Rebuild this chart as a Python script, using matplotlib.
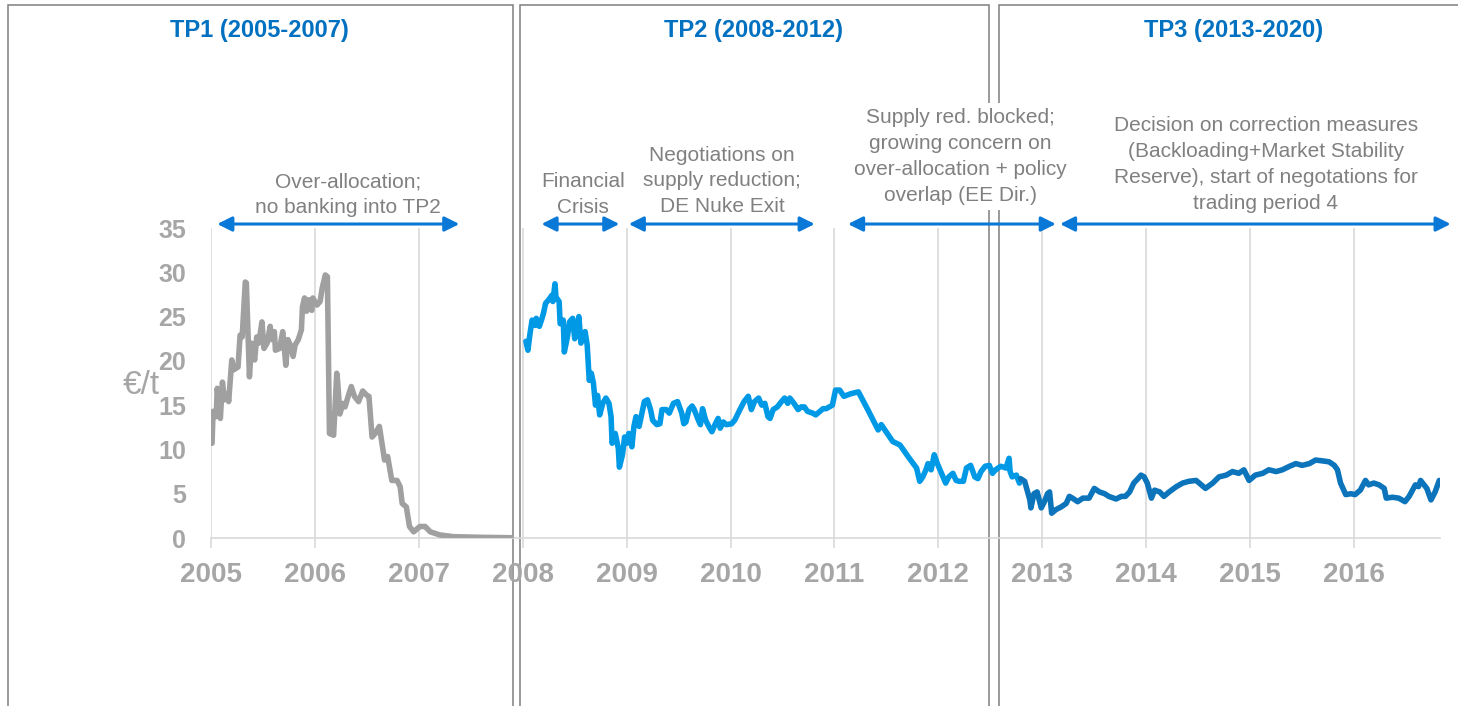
import matplotlib
matplotlib.use("Agg")
import matplotlib.pyplot as plt
import matplotlib.transforms as mtransforms
from matplotlib.patches import Rectangle

plt.rcParams['font.family'] = ['Liberation Sans', 'DejaVu Sans']

# EUA price, trading period 1 (2005-2007)
tp1_years = [2005.01, 2005.02, 2005.05, 2005.06, 2005.09, 2005.11, 2005.13, 2005.16, 2005.17,
             2005.20, 2005.22, 2005.26, 2005.28, 2005.30, 2005.33, 2005.34, 2005.37, 2005.39,
             2005.42, 2005.44, 2005.46, 2005.49, 2005.51, 2005.54, 2005.57, 2005.58, 2005.61,
             2005.62, 2005.66, 2005.69, 2005.70, 2005.72, 2005.74, 2005.77, 2005.79, 2005.81,
             2005.84, 2005.87, 2005.88, 2005.90, 2005.92, 2005.94, 2005.97, 2005.98, 2006.02,
             2006.05, 2006.07, 2006.10, 2006.12, 2006.14, 2006.18, 2006.21, 2006.22, 2006.24,
             2006.27, 2006.29, 2006.32, 2006.35, 2006.38, 2006.42, 2006.46, 2006.50, 2006.52,
             2006.55, 2006.58, 2006.62, 2006.64, 2006.67, 2006.70, 2006.74, 2006.79, 2006.82,
             2006.84, 2006.88, 2006.91, 2006.95, 2007.01, 2007.06, 2007.11, 2007.20, 2007.33,
             2007.59, 2007.89]
tp1_prices = [10.7, 14.3, 13.7, 16.9, 13.5, 17.6, 15.6, 16.3, 15.4,
              20.1, 19.0, 19.3, 22.9, 22.7, 28.9, 28.8, 18.2, 22.0,
              20.1, 22.7, 22.0, 24.4, 21.4, 22.0, 23.9, 22.4, 23.3,
              21.2, 21.4, 23.3, 22.2, 19.5, 22.4, 21.6, 20.5, 21.8,
              22.4, 23.5, 26.1, 27.1, 25.6, 26.9, 25.7, 27.1, 26.3,
              26.7, 28.2, 29.7, 29.5, 11.8, 11.6, 18.6, 17.5, 14.0,
              15.2, 14.8, 16.0, 17.1, 16.0, 15.4, 16.6, 16.1, 16.0,
              11.4, 11.8, 12.6, 11.1, 8.8, 9.2, 6.5, 6.5, 5.8,
              3.9, 3.5, 1.3, 0.7, 1.3, 1.3, 0.7, 0.35, 0.15,
              0.08, 0.03]

# trading period 2 (2008-2012)
tp2_years = [2008.03, 2008.05, 2008.07, 2008.09, 2008.12, 2008.13, 2008.16, 2008.18, 2008.20,
             2008.22, 2008.25, 2008.28, 2008.29, 2008.31, 2008.32, 2008.35, 2008.36, 2008.39,
             2008.40, 2008.43, 2008.45, 2008.48, 2008.50, 2008.52, 2008.54, 2008.56, 2008.60,
             2008.62, 2008.64, 2008.66, 2008.68, 2008.70, 2008.72, 2008.74, 2008.77, 2008.80,
             2008.83, 2008.85, 2008.86, 2008.89, 2008.92, 2008.93, 2008.96, 2008.98, 2009.00,
             2009.02, 2009.05, 2009.07, 2009.09, 2009.12, 2009.14, 2009.17, 2009.20, 2009.23,
             2009.25, 2009.29, 2009.32, 2009.34, 2009.38, 2009.41, 2009.45, 2009.49, 2009.53,
             2009.55, 2009.57, 2009.60, 2009.63, 2009.65, 2009.69, 2009.71, 2009.73, 2009.76,
             2009.79, 2009.82, 2009.85, 2009.88, 2009.90, 2009.93, 2009.96, 2010.01, 2010.04,
             2010.09, 2010.13, 2010.17, 2010.20, 2010.23, 2010.27, 2010.30, 2010.33, 2010.36,
             2010.38, 2010.41, 2010.45, 2010.49, 2010.52, 2010.55, 2010.57, 2010.61, 2010.65,
             2010.68, 2010.71, 2010.74, 2010.79, 2010.82, 2010.86, 2010.89, 2010.92, 2010.95,
             2010.98, 2011.01, 2011.05, 2011.09, 2011.16, 2011.23, 2011.32, 2011.42, 2011.45,
             2011.56, 2011.63, 2011.72, 2011.79, 2011.82, 2011.85, 2011.88, 2011.90, 2011.93,
             2011.96, 2011.99, 2012.03, 2012.07, 2012.10, 2012.14, 2012.17, 2012.20, 2012.24,
             2012.27, 2012.31, 2012.35, 2012.38, 2012.41, 2012.45, 2012.49, 2012.52, 2012.55,
             2012.60, 2012.65, 2012.68, 2012.69, 2012.71, 2012.75, 2012.78, 2012.79]
tp2_prices = [22.2, 21.2, 23.1, 24.6, 24.0, 24.8, 23.9, 24.6, 25.4,
              26.5, 26.9, 27.4, 26.7, 28.7, 27.2, 26.7, 24.2, 24.6,
              21.0, 22.7, 24.4, 24.8, 22.5, 23.5, 25.0, 22.0, 23.3,
              21.8, 17.8, 18.6, 17.5, 15.0, 16.1, 13.9, 15.2, 15.8,
              15.2, 13.7, 10.7, 11.8, 10.1, 8.0, 9.4, 11.4, 10.7,
              11.8, 10.3, 12.6, 13.7, 12.6, 13.7, 15.4, 15.6, 14.5,
              13.3, 12.8, 12.9, 14.5, 14.5, 14.1, 15.2, 15.4, 14.1,
              12.9, 13.1, 14.5, 14.9, 14.5, 13.3, 12.8, 14.6, 13.3,
              12.6, 12.0, 12.8, 13.5, 12.4, 13.1, 12.8, 12.9, 13.3,
              14.5, 15.4, 16.0, 14.5, 15.4, 15.8, 15.0, 15.2, 13.7,
              13.5, 14.5, 14.8, 15.4, 15.8, 15.2, 15.8, 15.2, 14.5,
              14.8, 14.8, 14.3, 14.1, 13.9, 14.3, 14.6, 14.6, 14.8,
              15.0, 16.7, 16.7, 16.0, 16.3, 16.5, 14.5, 12.2, 12.8,
              10.9, 10.5, 9.0, 7.9, 6.4, 6.9, 7.7, 8.4, 7.7,
              9.4, 8.4, 7.3, 6.2, 6.9, 7.3, 6.5, 6.4, 6.4,
              7.9, 8.2, 6.9, 6.7, 7.5, 8.1, 8.2, 7.3, 7.7,
              8.1, 7.9, 9.0, 7.5, 6.9, 7.1, 6.2, 6.5]

# trading period 3 (2013-2020)
tp3_years = [2012.79, 2012.83, 2012.88, 2012.89, 2012.92, 2012.95, 2012.99, 2013.02, 2013.05,
             2013.07, 2013.09, 2013.13, 2013.18, 2013.23, 2013.26, 2013.29, 2013.34, 2013.39,
             2013.45, 2013.50, 2013.55, 2013.60, 2013.64, 2013.71, 2013.76, 2013.80, 2013.84,
             2013.88, 2013.92, 2013.95, 2013.98, 2014.01, 2014.05, 2014.08, 2014.13, 2014.17,
             2014.22, 2014.29, 2014.35, 2014.41, 2014.48, 2014.53, 2014.57, 2014.64, 2014.70,
             2014.77, 2014.83, 2014.89, 2014.94, 2014.99, 2015.05, 2015.12, 2015.18, 2015.25,
             2015.31, 2015.38, 2015.44, 2015.50, 2015.57, 2015.63, 2015.70, 2015.76, 2015.81,
             2015.84, 2015.87, 2015.92, 2015.97, 2016.01, 2016.06, 2016.11, 2016.14, 2016.19,
             2016.24, 2016.29, 2016.31, 2016.37, 2016.43, 2016.49, 2016.53, 2016.59, 2016.62,
             2016.64, 2016.70, 2016.74, 2016.78, 2016.82]
tp3_prices = [6.7, 6.4, 4.3, 3.4, 5.0, 5.2, 3.4, 4.1, 5.0,
              5.2, 2.8, 3.2, 3.5, 3.9, 4.7, 4.5, 4.1, 4.5,
              4.5, 5.6, 5.2, 5.0, 4.7, 4.4, 4.7, 4.7, 5.2,
              6.2, 6.7, 7.1, 6.9, 6.2, 4.5, 5.4, 5.2, 4.7,
              5.2, 5.8, 6.2, 6.4, 6.5, 6.0, 5.6, 6.2, 6.9,
              7.1, 7.5, 7.3, 7.7, 6.5, 7.1, 7.3, 7.7, 7.5,
              7.7, 8.1, 8.4, 8.2, 8.4, 8.8, 8.7, 8.6, 8.2,
              7.7, 6.2, 4.9, 5.0, 4.9, 5.4, 6.5, 6.0, 6.2,
              6.0, 5.6, 4.5, 4.6, 4.5, 4.1, 4.7, 6.0, 5.8,
              6.5, 5.6, 4.3, 5.2, 6.5]

years = list(range(2005, 2017))
yticks = [0, 5, 10, 15, 20, 25, 30, 35]

period_titles = ["TP1 (2005-2007)", "TP2 (2008-2012)", "TP3 (2013-2020)"]
period_title_x = [2005.47, 2010.22, 2014.84]

events = [
    "Over-allocation;\nno banking into TP2",
    "Financial\nCrisis",
    "Negotiations on\nsupply reduction;\nDE Nuke Exit",
    "Supply red. blocked;\ngrowing concern on\nover-allocation + policy\noverlap (EE Dir.)",
    "Decision on correction measures\n(Backloading+Market Stability\nReserve), start of negotations for\ntrading period 4",
]
event_start = [2005.06, 2008.18, 2009.02, 2011.13, 2013.17]
event_end = [2007.39, 2008.93, 2010.81, 2013.13, 2016.93]
event_text_x = [2006.32, 2008.58, 2009.92, 2012.21, 2015.15]

W, H = 1458, 706
fig = plt.figure(figsize=(W / 100, H / 100), dpi=100)
ax = fig.add_axes([211 / W, 1 - 538 / H, 1229 / W, 310 / H])
ax.set_zorder(2)
ax.patch.set_alpha(0)

# period boxes
box_color = '#7f7f7f'
for x0, x1 in [(8, 513), (520, 989), (999, 1470)]:
    fig.add_artist(Rectangle((x0 / W, -0.1), (x1 - x0) / W, 1.1 - 5 / H,
                             transform=fig.transFigure, fill=False,
                             ec=box_color, lw=1.1, zorder=1))

lw = 4.0
style = dict(lw=lw, solid_joinstyle='round', solid_capstyle='round', zorder=3)
ax.plot(tp1_years, tp1_prices, color='#a0a0a0', **style)
ax.plot(tp2_years, tp2_prices, color='#0099e6', **style)
ax.plot(tp3_years, tp3_prices, color='#0b74ba', **style)

ax.set_xlim(2005, 2016.827)
ax.set_ylim(0, 35)
ax.set_xticks(years)
ax.set_yticks(yticks)
ax.grid(axis='x', color='#d9d9d9', lw=1.2)
ax.set_axisbelow(True)
for s in ['left', 'right', 'top']:
    ax.spines[s].set_visible(False)
ax.spines['bottom'].set_color('#d9d9d9')
ax.spines['bottom'].set_linewidth(1.2)
ax.tick_params(axis='x', length=7, width=1.2, color='#d9d9d9', pad=10,
               labelsize=20, labelcolor='#a6a6a6')
ax.tick_params(axis='y', length=0, pad=18, labelsize=18, labelcolor='#a6a6a6')
for lab in ax.get_xticklabels() + ax.get_yticklabels():
    lab.set_fontweight('bold')

fig.text(141 / W, 1 - 386 / H, "€/t", fontsize=24, color='#a6a6a6',
         ha='center', va='center')

blend = mtransforms.blended_transform_factory(ax.transData, fig.transFigure)

# period titles
for t, x in zip(period_titles, period_title_x):
    ax.text(x, 1 - 30 / H, t, transform=blend, ha='center', va='center',
            fontsize=17, fontweight='bold', color='#0070c0', clip_on=False)

# event arrows + texts
arrow_y = 35.45
text_centers = [195, 194.5, 181, 156.5, 164.5]
for i, (txt, xs, xe, xt) in enumerate(zip(events, event_start, event_end, event_text_x)):
    ax.annotate('', xy=(xe, arrow_y), xytext=(xs, arrow_y), annotation_clip=False,
                arrowprops=dict(arrowstyle='<|-|>', color='#0a78d7', lw=2.2,
                                mutation_scale=22, shrinkA=0, shrinkB=0), zorder=4)
    kw = {}
    if i == 3:
        kw['bbox'] = dict(fc='white', ec='none', pad=4)
    ax.text(xt, 1 - text_centers[i] / H, txt, transform=blend, ha='center', va='center',
            fontsize=15, color='#808080', linespacing=1.45, clip_on=False, **kw)

fig.savefig("out.png", dpi=100)
